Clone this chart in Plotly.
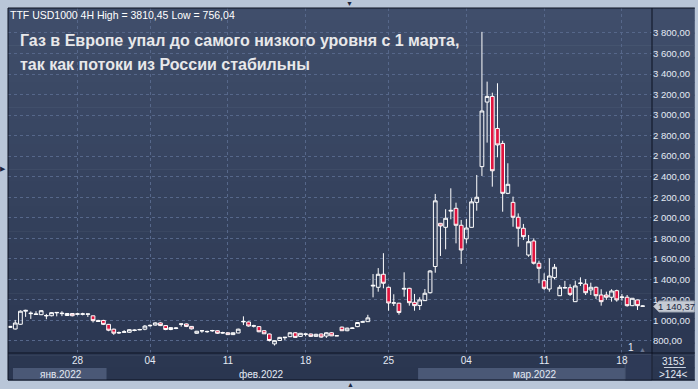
import plotly.graph_objects as go

# ---------------- data (4H candles, index = bar number) ----------------
opens = [932, 917, 963, 1090, 1066, 1058, 1056, 1044, 1046, 1074,
         1066, 1048, 1068, 1060, 1060, 1060, 1045, 1000, 1000, 962,
         915, 878, 884, 885, 902, 908, 915, 948, 955, 976,
         950, 912, 922, 963, 966, 942, 875, 898, 890, 898,
         900, 882, 880, 862, 878, 986, 985, 944, 940, 900,
         868, 772, 805, 832, 842, 880, 845, 865, 868, 845,
         868, 848, 880, 850, 935, 900, 922, 940, 983, 988,
         1335, 1323, 1450, 1323, 1168, 1168, 1305, 1313, 1177, 1145,
         1193, 1270, 1525, 1946, 1907, 2065, 2092, 1927, 1795, 1907,
         2150, 2498, 3127, 3182, 2870, 2724, 2238, 2150, 2005, 1898,
         1637, 1774, 1557, 1387, 1306, 1417, 1241, 1316, 1319, 1183,
         1360, 1355, 1297, 1323, 1248, 1248, 1226, 1290, 1224, 1226,
         1144, 1200, 1138]
highs = [945, 1005, 1098, 1104, 1088, 1090, 1100, 1064, 1080, 1080,
         1090, 1072, 1072, 1075, 1075, 1064, 1048, 1006, 1006, 966,
         920, 892, 905, 915, 912, 918, 955, 960, 982, 982,
         955, 935, 935, 968, 970, 946, 898, 902, 900, 908,
         904, 890, 884, 884, 920, 1040, 990, 958, 945, 905,
         872, 806, 840, 838, 884, 885, 878, 870, 872, 870,
         872, 885, 885, 852, 940, 930, 932, 985, 992, 1055,
         1452, 1510, 1655, 1330, 1255, 1172, 1469, 1318, 1258, 1226,
         1306, 1490, 2232, 1950, 2083, 2287, 2147, 1979, 1988, 2189,
         2417, 3810.45, 3326, 3218, 3310, 2750, 2531, 2206, 2043, 1940,
         1832, 1800, 1582, 1459, 1605, 1550, 1345, 1385, 1352, 1387,
         1420, 1401, 1368, 1330, 1304, 1280, 1304, 1300, 1258, 1248,
         1218, 1204, 1146]
lows = [930, 912, 958, 1035, 1015, 1055, 1052, 1012, 1040, 1040,
        1042, 1044, 1040, 1050, 1050, 1034, 980, 985, 955, 895,
        860, 868, 880, 880, 895, 905, 905, 940, 950, 945,
        905, 905, 915, 940, 935, 912, 870, 880, 880, 890,
        868, 872, 860, 858, 875, 955, 940, 932, 885, 868,
        795, 756.04, 800, 810, 838, 830, 840, 845, 840, 842,
        832, 830, 848, 848, 898, 895, 918, 935, 978, 985,
        1225, 1280, 1313, 1095, 1141, 1056, 1231, 1144, 1095, 1102,
        1190, 1262, 1465, 1628, 1693, 1985, 1751, 1550, 1751, 1905,
        2069, 2407, 2732, 2303, 2589, 2059, 2230, 1913, 1718, 1784,
        1620, 1545, 1362, 1297, 1280, 1401, 1238, 1313, 1238, 1180,
        1336, 1248, 1248, 1209, 1144, 1200, 1183, 1183, 1193, 1134,
        1140, 1102, 1136]
closes = [942, 975, 1090, 1098, 1070, 1062, 1095, 1048, 1076, 1078,
          1070, 1068, 1046, 1064, 1064, 1063, 998, 990, 962, 905,
          876, 882, 890, 910, 906, 912, 945, 952, 976, 950,
          912, 930, 926, 966, 942, 918, 895, 900, 893, 902,
          875, 878, 862, 880, 915, 990, 946, 948, 890, 870,
          805, 803, 835, 836, 880, 835, 875, 868, 845, 865,
          838, 880, 850, 851, 900, 925, 926, 980, 987, 1025,
          1342, 1450, 1362, 1170, 1172, 1078, 1312, 1173, 1144, 1200,
          1265, 1482, 2165, 1920, 1995, 2072, 1927, 1686, 1900, 2155,
          2200, 3040, 3182, 2458, 2709, 2238, 2326, 2005, 1898, 1816,
          1767, 1557, 1508, 1313, 1433, 1518, 1323, 1320, 1254, 1336,
          1364, 1270, 1323, 1241, 1183, 1226, 1287, 1200, 1228, 1144,
          1216, 1144, 1140.37]
bar_index = list(range(len(opens)))

day_tick_index = [13, 27, 42, 57, 73, 88, 103, 118]
day_tick_labels = ["28", "04", "11", "18", "25", "04", "11", "18"]
month_labels = ["янв.2022", "фев.2022", "мар.2022"]
price_ticks = list(range(800, 4000, 200))
last_price = 1140.37
header_text = "TTF USD1000 4H High = 3810,45 Low = 756,04"
title_lines = ["Газ в Европе упал до самого низкого уровня с 1 марта,",
               "так как потоки из России стабильны"]
bars_info = ["3153", ">124<"]


def fmt_price(v):
    return f"{v:,.2f}".replace(",", " ").replace(".", ",")


# ---------------- geometry ----------------
W, H = 698, 389
ML, MR, MT, MB = 8, 43, 8, 36
PW, PH = W - ML - MR, H - MT - MB


def px(xp):
    return (xp - ML) / PW


def py(yp):
    return 1 - (yp - MT) / PH


FONT = "Liberation Sans, Arial, sans-serif"
TXT = "#e4eaf4"

fig = go.Figure()
fig.add_trace(go.Candlestick(
    x=bar_index, open=opens, high=highs, low=lows, close=closes,
    increasing=dict(line=dict(color="#ffffff", width=1), fillcolor="rgba(0,0,0,0)"),
    decreasing=dict(line=dict(color="#ffffff", width=1), fillcolor="#e0153f"),
    whiskerwidth=0, hoverinfo="skip", showlegend=False,
))

shapes = []
# gradient background panel
N = 30
top_c = (64, 78, 107)
bot_c = (42, 54, 80)
y_top, y_bot = 8, 380
for k in range(N):
    t = k / (N - 1)
    c = tuple(round(top_c[j] + (bot_c[j] - top_c[j]) * t) for j in range(3))
    y0 = y_top + (y_bot - y_top) * k / N
    y1 = y_top + (y_bot - y_top) * (k + 1) / N + 0.6
    shapes.append(dict(type="rect", xref="paper", yref="paper", layer="below",
                       x0=px(8), x1=px(698), y0=py(y0), y1=py(y1),
                       fillcolor=f"rgb{c}", line=dict(width=0)))
# month bands (lighter)
for x0, x1 in [(13, 107), (420, 628)]:
    shapes.append(dict(type="rect", xref="paper", yref="paper", layer="below",
                       x0=px(x0), x1=px(x1), y0=py(368), y1=py(380),
                       fillcolor="#4a5876", line=dict(width=0)))
# scroll box near bottom right
shapes.append(dict(type="rect", xref="paper", yref="paper", layer="below",
                   x0=px(628), x1=px(655), y0=py(354), y1=py(380),
                   fillcolor="#2e3a57", line=dict(color="#46536e", width=1)))
# separators
line_c = "#0c1222"
for sx0, sy0, sx1, sy1 in [(655, 8, 655, 380), (8, 353, 698, 353),
                           (8, 8, 8, 380), (8, 8, 698, 8), (8, 380, 698, 380)]:
    shapes.append(dict(type="line", xref="paper", yref="paper", layer="above",
                       x0=px(sx0), x1=px(sx1), y0=py(sy0), y1=py(sy1),
                       line=dict(color=line_c, width=1)))
shapes.append(dict(type="line", xref="paper", yref="paper", layer="above",
                   x0=px(667), x1=px(689), y0=py(367.5), y1=py(367.5),
                   line=dict(color="#c8d0dc", width=1)))
# last price label
lp_y = 306.5
path = (f"M {px(656.5)} {py(lp_y)} L {px(662)} {py(301)} L {px(697.5)} {py(301)} "
        f"L {px(697.5)} {py(312)} L {px(662)} {py(312)} Z")
shapes.append(dict(type="path", xref="paper", yref="paper", layer="above", path=path,
                   fillcolor="#c6cbd4", line=dict(color="#9aa2b0", width=1)))

annotations = []


def ann(text, x, y, size=10, color=TXT, xanchor="center", bold=False, family=FONT):
    annotations.append(dict(text=f"<b>{text}</b>" if bold else text, xref="paper", yref="paper",
                            x=px(x), y=py(y), xanchor=xanchor, yanchor="middle",
                            showarrow=False, borderpad=0,
                            font=dict(size=size, color=color, family=family)))


ann(header_text, 9, 15, size=10.5, color="#ffffff", xanchor="left")
ann(title_lines[0], 19, 40, size=16, color="#e8e8ea", xanchor="left", bold=True)
ann(title_lines[1], 19, 65, size=16, color="#e8e8ea", xanchor="left", bold=True)
for lab, xm in zip(month_labels, [61, 263, 537]):
    ann(lab, xm, 374, size=10)
ann(bars_info[0], 677, 361, size=10)
ann(bars_info[1], 677, 374, size=10)
ann(fmt_price(last_price), 679.5, lp_y, size=9.5, color="#1c2740")
ann("1", 634, 347, size=10)
ann("▲", 645, 349, size=7, color="#6c7892")
ann("▼", 351, 4, size=7, color="#1c2640")
ann("▶", 3, 168, size=7, color="#1c2640")
ann("▲", 352, 384.5, size=7, color="#1c2640")

grid_c = "#56678a"
fig.update_layout(
    width=W, height=H,
    margin=dict(l=ML, r=MR, t=MT, b=MB, pad=0),
    paper_bgcolor="#b9c6d8", plot_bgcolor="rgba(0,0,0,0)",
    showlegend=False, shapes=shapes, annotations=annotations,
    boxgap=0.22, boxgroupgap=0.08,
    font=dict(family=FONT, size=10, color=TXT),
    xaxis=dict(range=[-0.4, 123.8], rangeslider=dict(visible=False),
               tickmode="array", tickvals=day_tick_index, ticktext=day_tick_labels,
               showgrid=True, gridcolor=grid_c, griddash="3px,3px", gridwidth=1,
               zeroline=False, showline=False, ticks="", tickfont=dict(size=10, color=TXT),
               fixedrange=True),
    yaxis=dict(side="right", range=[683, 4043], tickmode="array", tickvals=price_ticks,
               ticktext=[fmt_price(v) for v in price_ticks],
               showgrid=True, gridcolor=grid_c, griddash="3px,3px", gridwidth=1,
               zeroline=False, showline=False, ticks="", tickfont=dict(size=9.5, color=TXT),
               fixedrange=True),
)

fig.write_html("out.html", config={"displayModeBar": False},
               post_script="document.body.style.margin='0';document.body.style.overflow='hidden';")
